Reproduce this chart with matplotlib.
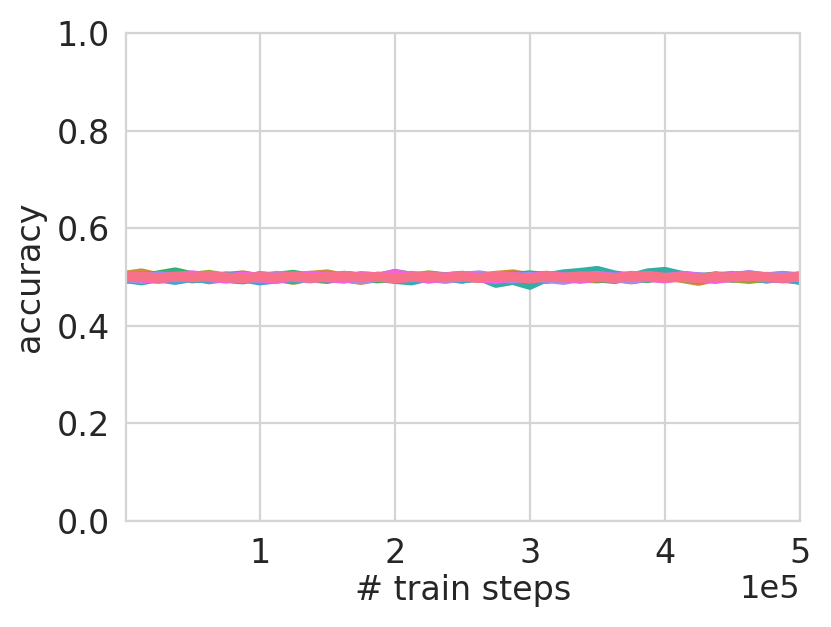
import numpy as np
import matplotlib
matplotlib.use("Agg")
import matplotlib.pyplot as plt
import seaborn as sns

# evaluation steps (every 12.5k train steps)
steps = np.arange(0, 41) * 12500

# accuracy curves, one per run (all hover around chance)
acc_orange = [0.503, 0.508, 0.500, 0.497, 0.502, 0.495, 0.500, 0.504, 0.498, 0.501,
              0.497, 0.503, 0.506, 0.499, 0.494, 0.500, 0.503, 0.497, 0.502, 0.499,
              0.501, 0.498, 0.503, 0.506, 0.500, 0.497, 0.502, 0.499, 0.497, 0.501,
              0.495, 0.500, 0.503, 0.498, 0.492, 0.500, 0.503, 0.497, 0.501, 0.499, 0.502]
acc_olive = [0.496, 0.500, 0.503, 0.498, 0.501, 0.505, 0.499, 0.496, 0.502, 0.500,
             0.494, 0.501, 0.498, 0.503, 0.500, 0.497, 0.501, 0.499, 0.504, 0.500,
             0.497, 0.502, 0.499, 0.494, 0.501, 0.503, 0.498, 0.500, 0.502, 0.497,
             0.501, 0.499, 0.503, 0.500, 0.497, 0.502, 0.499, 0.496, 0.500, 0.503, 0.499]
acc_green = [0.501, 0.497, 0.504, 0.510, 0.502, 0.498, 0.500, 0.503, 0.497, 0.501,
             0.505, 0.499, 0.496, 0.502, 0.500, 0.498, 0.507, 0.501, 0.497, 0.500,
             0.503, 0.499, 0.496, 0.501, 0.504, 0.500, 0.497, 0.502, 0.499, 0.496,
             0.501, 0.498, 0.503, 0.500, 0.496, 0.501, 0.499, 0.503, 0.497, 0.500, 0.494]
acc_teal = [0.498, 0.493, 0.500, 0.505, 0.497, 0.501, 0.498, 0.495, 0.502, 0.499,
            0.496, 0.501, 0.499, 0.497, 0.502, 0.500, 0.496, 0.493, 0.501, 0.499,
            0.497, 0.502, 0.488, 0.494, 0.484, 0.500, 0.506, 0.509, 0.513, 0.504,
            0.499, 0.508, 0.511, 0.503, 0.498, 0.501, 0.499, 0.503, 0.497, 0.500, 0.496]
acc_blue = [0.497, 0.503, 0.499, 0.494, 0.500, 0.497, 0.502, 0.499, 0.493, 0.497,
            0.501, 0.498, 0.503, 0.499, 0.496, 0.501, 0.499, 0.497, 0.502, 0.500,
            0.497, 0.501, 0.499, 0.503, 0.500, 0.496, 0.501, 0.498, 0.502, 0.500,
            0.496, 0.501, 0.499, 0.503, 0.500, 0.497, 0.501, 0.504, 0.500, 0.498, 0.495]
acc_purple = [0.500, 0.496, 0.502, 0.499, 0.503, 0.500, 0.497, 0.501, 0.498, 0.503,
              0.500, 0.497, 0.502, 0.499, 0.495, 0.501, 0.498, 0.503, 0.500, 0.496,
              0.501, 0.504, 0.499, 0.497, 0.501, 0.498, 0.494, 0.500, 0.503, 0.499,
              0.496, 0.501, 0.498, 0.502, 0.500, 0.497, 0.501, 0.503, 0.499, 0.502, 0.500]
acc_magenta = [0.502, 0.499, 0.496, 0.501, 0.504, 0.500, 0.497, 0.502, 0.499, 0.496,
               0.501, 0.503, 0.499, 0.497, 0.502, 0.500, 0.506, 0.501, 0.497, 0.500,
               0.503, 0.499, 0.496, 0.501, 0.498, 0.503, 0.500, 0.496, 0.501, 0.499,
               0.503, 0.500, 0.497, 0.502, 0.499, 0.496, 0.501, 0.504, 0.500, 0.497, 0.502]
acc_pink = [0.500, 0.502, 0.498, 0.501, 0.499, 0.503, 0.500, 0.497, 0.501, 0.499,
            0.502, 0.498, 0.500, 0.503, 0.499, 0.501, 0.497, 0.500, 0.502, 0.499,
            0.501, 0.498, 0.503, 0.500, 0.497, 0.501, 0.499, 0.502, 0.500, 0.498,
            0.501, 0.503, 0.499, 0.500, 0.497, 0.501, 0.499, 0.502, 0.500, 0.498, 0.501]

runs = [acc_orange, acc_olive, acc_green, acc_teal,
        acc_blue, acc_purple, acc_magenta, acc_pink]

sns.set_style("whitegrid")
plt.rcParams['font.family'] = ['DejaVu Sans']

fig = plt.figure(figsize=(8.31, 6.27), dpi=100)
ax = fig.add_axes([0.1516, 0.169, 0.811, 0.778])

colors = sns.color_palette("husl", 8)
colors = colors[1:] + colors[:1]  # pinkish run ends up on top

for acc, c in zip(runs, colors):
    ax.plot(steps, acc, color=c, lw=7, solid_capstyle='butt')

ax.set_xlim(1000, 500000)
ax.set_ylim(0, 1.0)
ax.set_xticks([100000, 200000, 300000, 400000, 500000])
ax.ticklabel_format(axis='x', style='sci', scilimits=(0, 0))
ax.xaxis.get_offset_text().set_fontsize(23)
ax.tick_params(labelsize=24, colors='#262626', pad=8)
ax.grid(True, color='#d4d4d4', lw=1.6)
ax.set_xlabel("# train steps", fontsize=24, color='#262626', labelpad=3)
ax.set_ylabel("accuracy", fontsize=24, color='#262626', labelpad=8)
for s in ax.spines.values():
    s.set_color('#d4d4d4')
    s.set_linewidth(1.6)

fig.savefig("out.png", dpi=100)
